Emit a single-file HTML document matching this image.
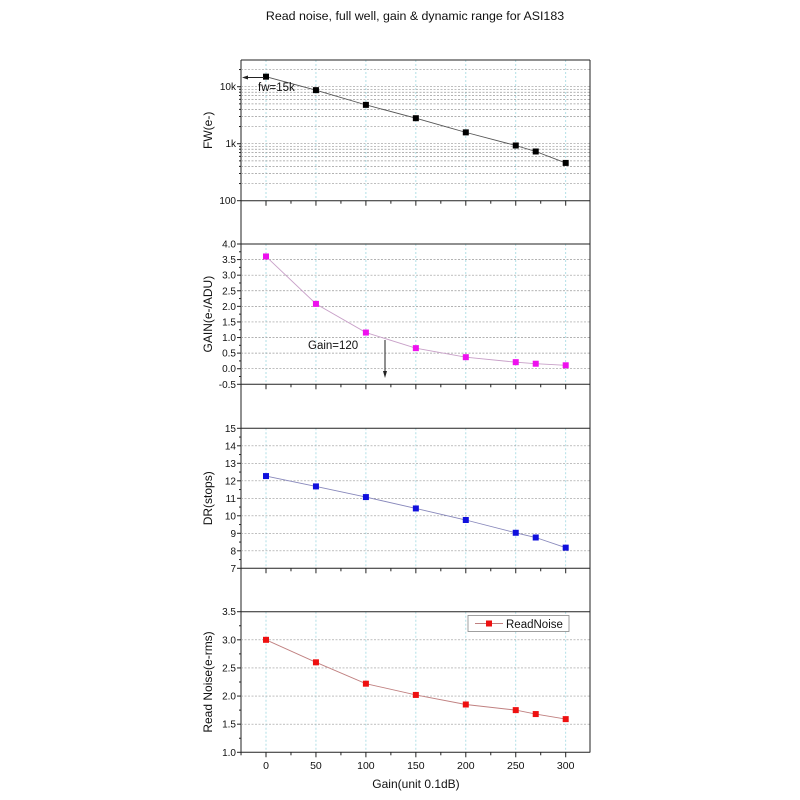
<!DOCTYPE html>
<html><head><meta charset="utf-8"><style>body{margin:0;background:#fff}svg{display:block;font-family:"Liberation Sans",Arial,sans-serif}</style></head>
<body>
<svg id="s" width="800" height="800" viewBox="0 0 800 800" xmlns="http://www.w3.org/2000/svg">
<text x="415" y="20" font-size="12.4" text-anchor="middle" fill="#111">Read noise, full well, gain &amp; dynamic range for ASI183</text>
</svg>
<script>
const S=document.getElementById('s');const NS='http://www.w3.org/2000/svg';
function el(t,a,txt){const e=document.createElementNS(NS,t);for(const k in a)e.setAttribute(k,a[k]);if(txt!==undefined)e.textContent=txt;S.appendChild(e);return e;}
const L=241,R=590;const X=v=>266+v*0.999;
const xs=[0,50,100,150,200,250,270,300];
el('line',{x1:L,y1:60,x2:L,y2:752.5,stroke:'#222','stroke-width':1});
el('line',{x1:R,y1:60,x2:R,y2:752.5,stroke:'#222','stroke-width':1});
function panel(top,bot,yfn,ticks,minors,hgrid,label,data,color,lineColor,labelsize){
  [0,50,100,150,200,250,300].forEach(v=>el('line',{x1:X(v),y1:top,x2:X(v),y2:bot,stroke:'#9fd8e0','stroke-width':0.8,'stroke-dasharray':'2,2'}));
  hgrid.forEach(v=>el('line',{x1:L,y1:yfn(v),x2:R,y2:yfn(v),stroke:'#999','stroke-width':0.7,'stroke-dasharray':'2,1.5'}));
  el('line',{x1:L,y1:top,x2:R,y2:top,stroke:'#222','stroke-width':1});
  el('line',{x1:L,y1:bot,x2:R,y2:bot,stroke:'#222','stroke-width':1});
  for(let v=-25;v<=325;v+=25){const x=X(v);if(x<L||x>R)continue;const maj=v%50==0;el('line',{x1:x,y1:bot,x2:x,y2:bot+(maj?5:3),stroke:'#222','stroke-width':1});}
  ticks.forEach(t=>{const y=yfn(t[0]);el('line',{x1:L-4,y1:y,x2:L,y2:y,stroke:'#222'});el('text',{x:L-5,y:y+3.5,'font-size':10,'text-anchor':'end',fill:'#111'},t[1]);});
  minors.forEach(v=>{const y=yfn(v);el('line',{x1:L-2,y1:y,x2:L,y2:y,stroke:'#222'});});
  const cy=(top+bot)/2;
  el('text',{x:0,y:0,'font-size':labelsize||12,'text-anchor':'middle',fill:'#111',transform:`translate(${L-29},${cy}) rotate(-90)`},label);
  el('polyline',{points:data.map((d,i)=>X(xs[i])+','+yfn(d)).join(' '),fill:'none',stroke:lineColor,'stroke-width':0.9});
  data.forEach((d,i)=>el('rect',{x:X(xs[i])-3,y:yfn(d)-3,width:6,height:6,fill:color}));
}
const yF=v=>200.7-(Math.log10(v)-2)*57;
let hg=[],mn=[];for(let d=100;d<=10000;d*=10)for(let k=2;k<=9;k++){if(d*k<30000){hg.push(d*k);mn.push(d*k);}}hg.push(1000,10000);
panel(60,200.7,yF,[[100,'100'],[1000,'1k'],[10000,'10k']],mn,hg,'FW(e-)',[15000,8700,4800,2800,1580,930,730,460],'#000','#555');
const yG=v=>244+(4-v)*(140.3/4.5);
panel(244,384.3,yG,[4,3.5,3,2.5,2,1.5,1,0.5,0,-0.5].map(v=>[v,v.toFixed(1)]),[3.75,3.25,2.75,2.25,1.75,1.25,.75,.25,-.25],[3.5,3,2.5,2,1.5,1,0.5,0],'GAIN(e-/ADU)',[3.6,2.08,1.16,0.66,0.37,0.21,0.16,0.11],'#ee10ee','#c8a0c8');
const yD=v=>428.3+(15-v)*(140/8);
panel(428.3,568.3,yD,[15,14,13,12,11,10,9,8,7].map(v=>[v,''+v]),[14.5,13.5,12.5,11.5,10.5,9.5,8.5,7.5],[14,13,12,11,10,9,8],'DR(stops)',[12.27,11.68,11.07,10.42,9.76,9.03,8.76,8.18],'#1010dd','#8888bb');
const yR=v=>611.7+(3.5-v)*(140.6/2.5);
panel(611.7,752.3,yR,[3.5,3,2.5,2,1.5,1].map(v=>[v,v.toFixed(1)]),[3.25,2.75,2.25,1.75,1.25],[3,2.5,2,1.5],'Read Noise(e-rms)',[3.0,2.6,2.22,2.02,1.85,1.75,1.68,1.59],'#ee1010','#c08080');
[0,50,100,150,200,250,300].forEach(v=>el('text',{x:X(v),y:769,'font-size':10.5,'text-anchor':'middle',fill:'#111'},''+v));
el('text',{x:416,y:788,'font-size':12,'text-anchor':'middle',fill:'#111'},'Gain(unit 0.1dB)');
el('rect',{x:468,y:615.5,width:101,height:16,fill:'#fff',stroke:'#888','stroke-width':0.8});
el('line',{x1:475,y1:623.5,x2:503,y2:623.5,stroke:'#c08080'});
el('rect',{x:486,y:620.5,width:6,height:6,fill:'#ee1010'});
el('text',{x:506,y:628,'font-size':11.5,fill:'#111'},'ReadNoise');
el('line',{x1:245,y1:77.5,x2:264,y2:77.5,stroke:'#222'});
el('polygon',{points:'242,77.5 248,75.5 248,79.5',fill:'#222'});
el('text',{x:258,y:91,'font-size':11.5,fill:'#111'},'fw=15k');
el('text',{x:308,y:349,'font-size':11.5,fill:'#111'},'Gain=120');
el('line',{x1:385,y1:340,x2:385,y2:372,stroke:'#222'});
el('polygon',{points:'385,378 383,371 387,371',fill:'#222'});
</script>
</body></html>
